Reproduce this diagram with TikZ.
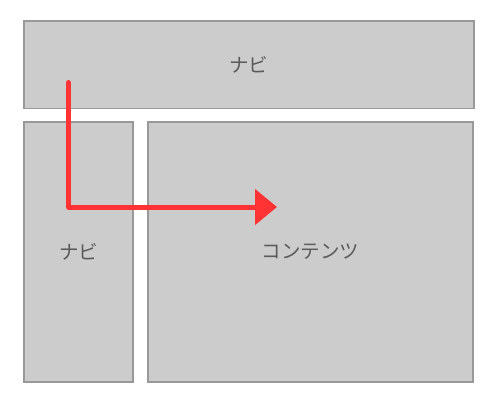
\documentclass[tikz,border=0pt]{standalone}
\usepackage{fontspec}
\newfontfamily\cjk{Noto Sans CJK JP}
\usetikzlibrary{arrows.meta}
\definecolor{boxgray}{HTML}{CCCCCC}
\definecolor{linegray}{HTML}{999999}
\definecolor{textgray}{HTML}{5A5A5A}
\definecolor{flowred}{HTML}{FF3333}
\tikzset{
  area/.style = {rectangle, fill=boxgray, draw=linegray, line width=1.6,
                 inner sep=0pt, outer sep=0pt, text=textgray,
                 font=\cjk\fontsize{19.5}{22}\selectfont},
  flow/.style = {draw=flowred, line width=5, line cap=round, line join=round,
                 -{Triangle[length=22, width=35]}}
}

\begin{document}
\begin{tikzpicture}[x=1pt, y=-1pt]
	\def \colh{260}
	\def \coly{252}

	\useasboundingbox (0,0) rectangle (500,400);

	% Areas
	\node[area, minimum width=450, minimum height=87.5] (nav) at (248.8,64.8) {ナビ};
	\node[area, minimum width=109, minimum height=\colh] (sidenav) at (78.5,\coly) {ナビ};
	\node[area, minimum width=325, minimum height=\colh] (content) at (310.5,\coly) {コンテンツ};

	% Reading order
	\coordinate (start) at (68.5,82.5);
	\coordinate (turn)  at (68.5,207);
	\coordinate (goal)  at (277,207);
	\draw[flow] (start) -- (turn) -- (goal);

\end{tikzpicture}
\end{document}
